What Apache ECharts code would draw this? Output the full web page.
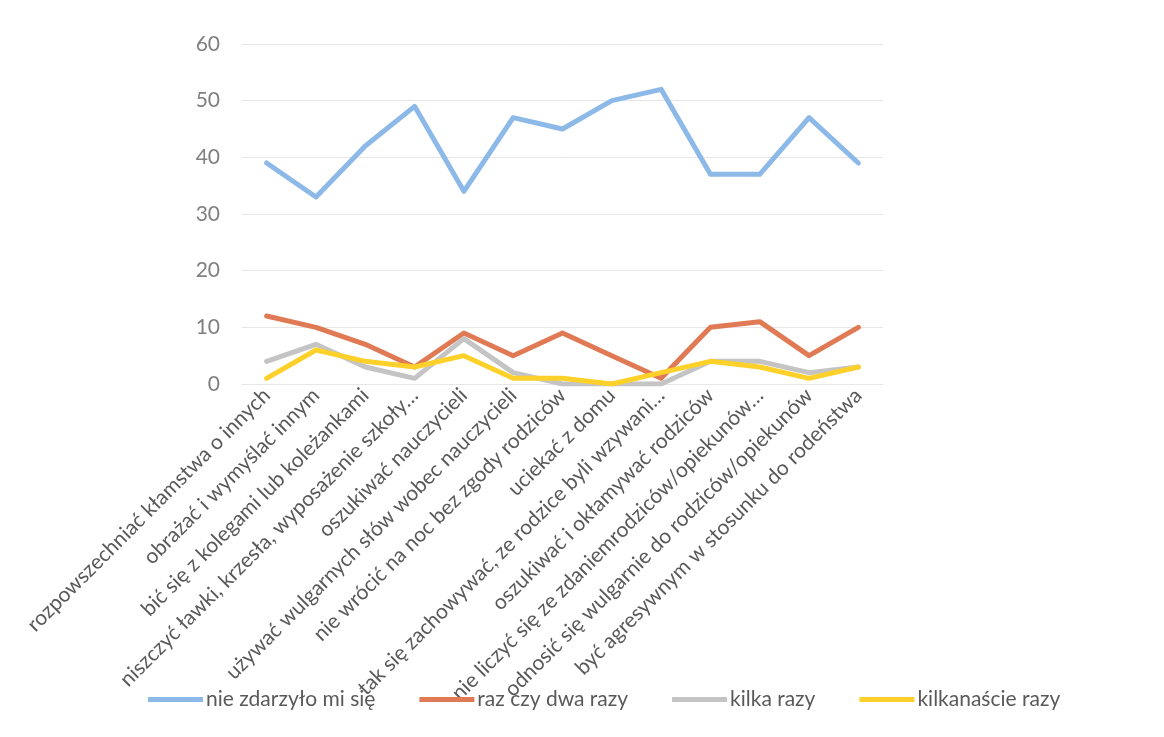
<!DOCTYPE html>
<html>
<head>
<meta charset="utf-8">
<script src="https://cdn.jsdelivr.net/npm/echarts@6/dist/echarts.min.js"></script>
<style>html,body{margin:0;padding:0;background:#fff}#c{width:1164px;height:737px}</style>
</head>
<body>
<div id="c"></div>
<script>
const categories = [
  "rozpowszechniać kłamstwa o innych",
  "obrażać i wymyślać innym",
  "bić się z kolegami lub koleżankami",
  "niszczyć ławki, krzesła, wyposażenie szkoły…",
  "oszukiwać nauczycieli",
  "używać wulgarnych słów wobec nauczycieli",
  "nie wrócić na noc bez zgody rodziców",
  "uciekać z domu",
  "tak się zachowywać, ze rodzice byli wzywani…",
  "oszukiwać i okłamywać rodziców",
  "nie liczyć się ze zdaniemrodziców/opiekunów…",
  "odnosić się wulgarnie do rodziców/opiekunów",
  "być agresywnym w stosunku do rodeństwa"
];
const seriesNames = ["nie zdarzyło mi się", "raz czy dwa razy", "kilka razy", "kilkanaście razy"];
const nieZdarzylo = [39, 33, 42, 49, 34, 47, 45, 50, 52, 37, 37, 47, 39];
const razCzyDwa = [12, 10, 7, 3, 9, 5, 9, 5, 1, 10, 11, 5, 10];
const kilka = [4, 7, 3, 1, 8, 2, 0, 0, 0, 4, 4, 2, 3];
const kilkanascie = [1, 6, 4, 3, 5, 1, 1, 0, 2, 4, 3, 1, 3];
const colors = ["#8db9e8", "#e07a55", "#c4c4c4", "#fdd12a"];

const chart = echarts.init(document.getElementById('c'));
const font = "Lato, 'Open Sans', sans-serif";
function mk(name, data, color) {
  return {
    name, type: 'line', data, symbol: 'none', color,
    lineStyle: { width: 5, color, join: 'round', cap: 'round' }
  };
}
chart.setOption({
  animation: false,
  backgroundColor: '#ffffff',
  grid: { left: 242, right: 281, top: 44, bottom: 353, containLabel: false },
  xAxis: {
    type: 'category', data: categories, boundaryGap: true,
    axisLine: { show: true, lineStyle: { color: '#e6e6e6' } },
    axisTick: { show: false },
    axisLabel: { rotate: 45, interval: 0, color: '#595959', fontSize: 21, fontFamily: font, margin: 8 }
  },
  yAxis: {
    type: 'value', min: 0, max: 60, interval: 10,
    axisLine: { show: false }, axisTick: { show: false },
    axisLabel: { color: '#808080', fontSize: 21, fontFamily: font, margin: 22 },
    splitLine: { lineStyle: { color: '#e6e6e6', width: 1 } }
  },
  legend: {
    data: seriesNames, bottom: 22, left: 143,
    icon: 'rect', itemWidth: 55, itemHeight: 5, itemGap: 44,
    textStyle: { color: '#595959', fontSize: 21, fontFamily: font, padding: [0, 0, 0, -2] }
  },
  series: [
    mk(seriesNames[0], nieZdarzylo, colors[0]),
    mk(seriesNames[1], razCzyDwa, colors[1]),
    mk(seriesNames[2], kilka, colors[2]),
    mk(seriesNames[3], kilkanascie, colors[3])
  ]
});
</script>
</body>
</html>
